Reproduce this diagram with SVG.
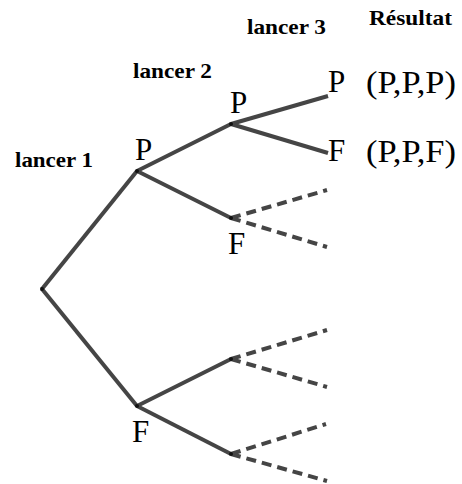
<svg xmlns="http://www.w3.org/2000/svg" width="462" height="484" viewBox="0 0 462 484">
<style>
.e{stroke:#454545;stroke-width:4;fill:none;stroke-linecap:butt}
.d{stroke:#454545;stroke-width:4;fill:none;stroke-dasharray:10 6}
.h{font-family:"Liberation Serif",serif;font-weight:bold;font-size:21px;fill:#000}
.n{font-family:"Liberation Serif",serif;font-size:31px;fill:#000}
.dot{fill:#111}
</style>
<rect width="462" height="484" fill="#fff"/>
<g id="connectors">
<line class="e" x1="42" y1="289" x2="137" y2="171"/>
<line class="e" x1="42" y1="289" x2="137" y2="406"/>
<line class="e" x1="137" y1="171" x2="231" y2="124"/>
<line class="e" x1="137" y1="171" x2="231" y2="218"/>
<line class="e" x1="137" y1="406" x2="231" y2="359"/>
<line class="e" x1="137" y1="406" x2="231" y2="454"/>
<line class="e" x1="231" y1="124" x2="328" y2="96"/>
<line class="e" x1="231" y1="124" x2="328" y2="153"/>
<line class="d" x1="231" y1="218" x2="327" y2="190"/>
<line class="d" x1="231" y1="218" x2="327" y2="247"/>
<line class="d" x1="231" y1="359" x2="327" y2="330"/>
<line class="d" x1="231" y1="359" x2="327" y2="387"/>
<line class="d" x1="231" y1="454" x2="326" y2="424"/>
<line class="d" x1="231" y1="454" x2="327" y2="481"/>
</g>
<g id="headers">
<text class="h" x="15" y="167" textLength="78" lengthAdjust="spacingAndGlyphs">lancer 1</text>
<text class="h" x="133" y="78" textLength="79" lengthAdjust="spacingAndGlyphs">lancer 2</text>
<text class="h" x="247" y="34" textLength="79" lengthAdjust="spacingAndGlyphs">lancer 3</text>
<text class="h" x="369" y="25" textLength="83" lengthAdjust="spacingAndGlyphs">Résultat</text>
</g>
<g id="root"><circle class="dot" cx="42" cy="289" r="2"/></g>
<g id="n-P1"><circle class="dot" cx="137" cy="171" r="2"/><text class="n" x="135" y="160">P</text></g>
<g id="n-F1"><circle class="dot" cx="137" cy="406" r="2"/><text class="n" x="132" y="442">F</text></g>
<g id="n-PP"><circle class="dot" cx="231" cy="124" r="2"/><text class="n" x="230" y="113">P</text></g>
<g id="n-PF"><circle class="dot" cx="231" cy="218" r="2"/><text class="n" x="228" y="254">F</text></g>
<g id="n-FP"><circle class="dot" cx="231" cy="359" r="2"/></g>
<g id="n-FF"><circle class="dot" cx="231" cy="454" r="2"/></g>
<g id="n-PPP"><text class="n" x="328" y="92">P</text><text class="n" x="366" y="93" textLength="90" lengthAdjust="spacingAndGlyphs">(P,P,P)</text></g>
<g id="n-PPF"><text class="n" x="328" y="161">F</text><text class="n" x="366" y="162" textLength="90" lengthAdjust="spacingAndGlyphs">(P,P,F)</text></g>
</svg>
